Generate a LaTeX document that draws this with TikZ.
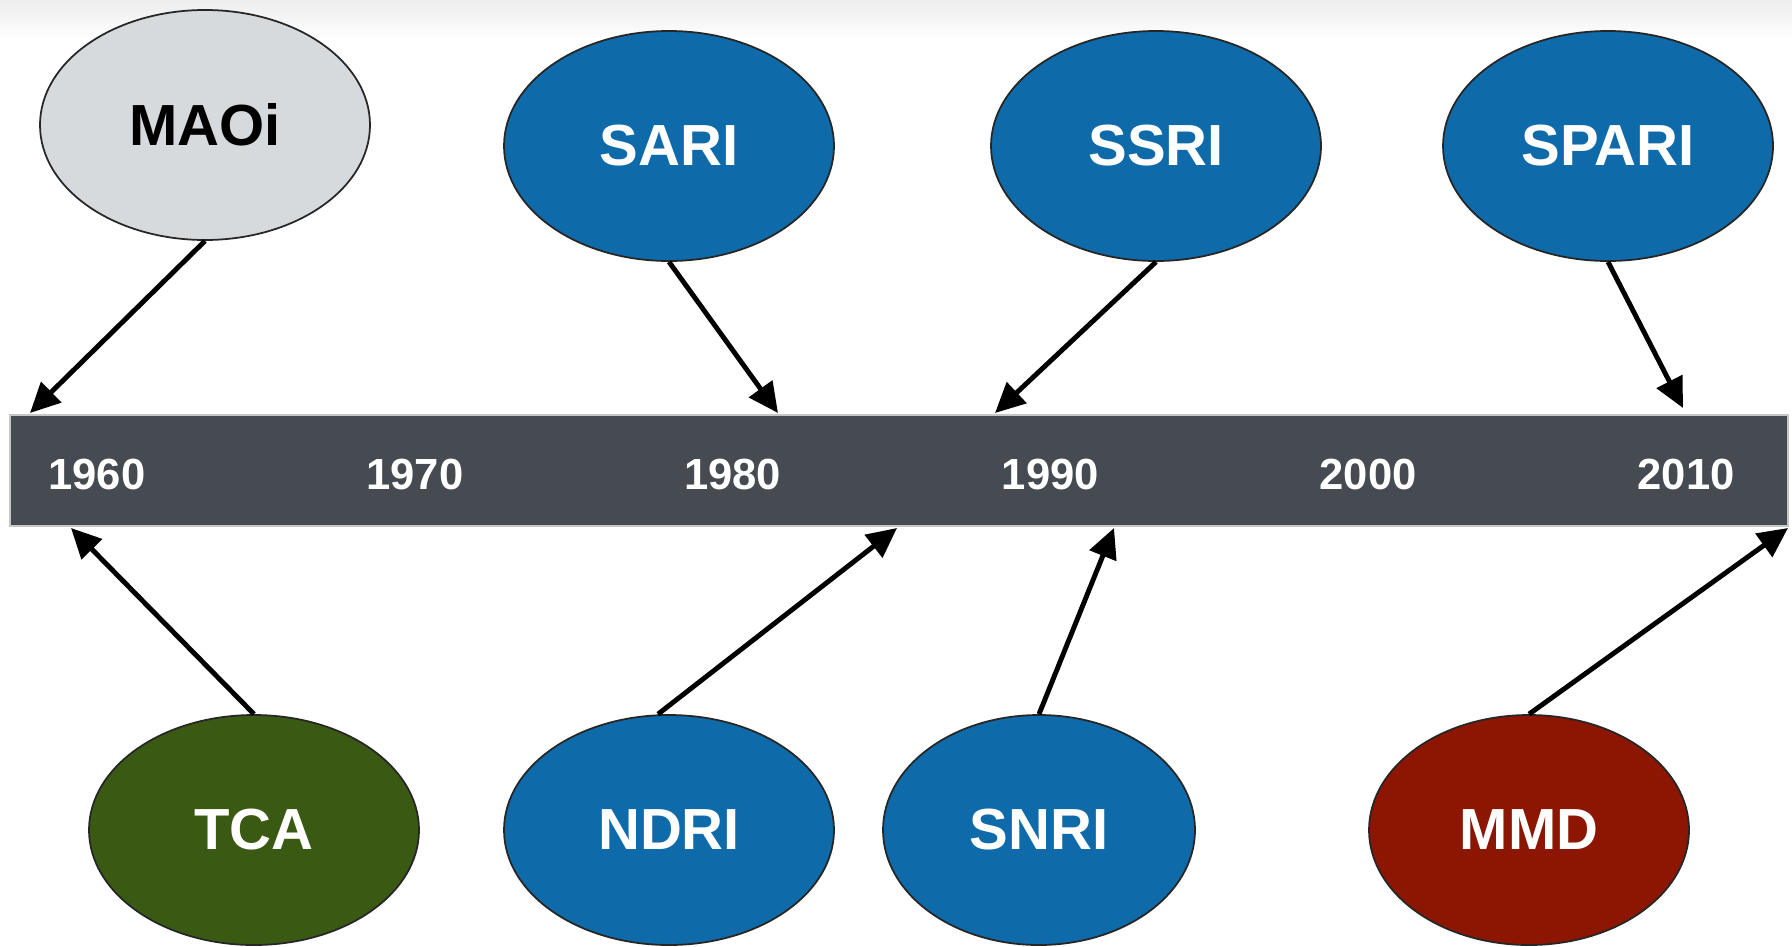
\documentclass[tikz,border=0pt]{standalone}
\usepackage{fontspec}
\setmainfont{Liberation Sans}
\usetikzlibrary{shapes.geometric,arrows.meta}
\definecolor{barGray}{RGB}{70,75,82}
\definecolor{maoiGray}{RGB}{214,218,221}
\definecolor{drugBlue}{RGB}{14,106,168}
\definecolor{tcaGreen}{RGB}{58,90,20}
\definecolor{mmdRed}{RGB}{140,22,2}

\begin{document}
\begin{tikzpicture}[x=0.1mm,y=-0.1mm,
	drug/.style={ellipse,draw=black!85,line width=0.5pt,inner sep=0pt,minimum width=33mm,minimum height=23mm,text=white,font=\fontsize{16.5}{18}\selectfont\bfseries},
	link/.style={line width=1.4pt,-{Triangle[length=8.5pt,width=8pt]}},
	year/.style={text=white,font=\fontsize{12.4}{14}\selectfont\bfseries}]
	\useasboundingbox (0,0) rectangle (1792,946);
	\shade[top color=black!7,bottom color=white] (0,0) rectangle (1792,40);
	\node[draw=gray!45,fill=barGray,rectangle,inner sep=0pt,minimum width=177.8mm,minimum height=11.1mm] (bar) at (899,470.5) {};
	\foreach \yr [count=\i from 0] in {1960,1970,...,2010}
		\node[year] (y\yr) at (97+317.8*\i,474) {\yr};
	\node[drug,fill=maoiGray,text=black] (maoi) at (205,125) {MAOi};
	\node[drug,fill=drugBlue] (sari) at (669,146) {SARI};
	\node[drug,fill=drugBlue] (ssri) at (1156,146) {SSRI};
	\node[drug,fill=drugBlue] (spari) at (1608,146) {SPARI};
	\node[drug,fill=tcaGreen] (tca) at (254,830) {TCA};
	\node[drug,fill=drugBlue] (ndri) at (669,830) {NDRI};
	\node[drug,fill=drugBlue,minimum width=31.2mm] (snri) at (1039,830) {SNRI};
	\node[drug,fill=mmdRed,minimum width=32mm] (mmd) at (1529,830) {MMD};
	\coordinate (a-maoi) at (30,413);
	\coordinate (a-sari) at (778,413);
	\coordinate (a-ssri) at (995,413);
	\coordinate (a-spari) at (1683,408);
	\coordinate (a-tca) at (71,528);
	\coordinate (a-ndri) at (897,528);
	\coordinate (a-snri) at (1114,528);
	\coordinate (a-mmd) at (1788,528);
	\draw[link] (maoi.south) -- (a-maoi);
	\draw[link] (sari.south) -- (a-sari);
	\draw[link] (ssri.south) -- (a-ssri);
	\draw[link] (spari.south) -- (a-spari);
	\draw[link] (tca.north) -- (a-tca);
	\draw[link] (ndri.north) ++(-11,0) -- (a-ndri);
	\draw[link] (snri.north) -- (a-snri);
	\draw[link] (mmd.north) -- (a-mmd);
\end{tikzpicture}
\end{document}
